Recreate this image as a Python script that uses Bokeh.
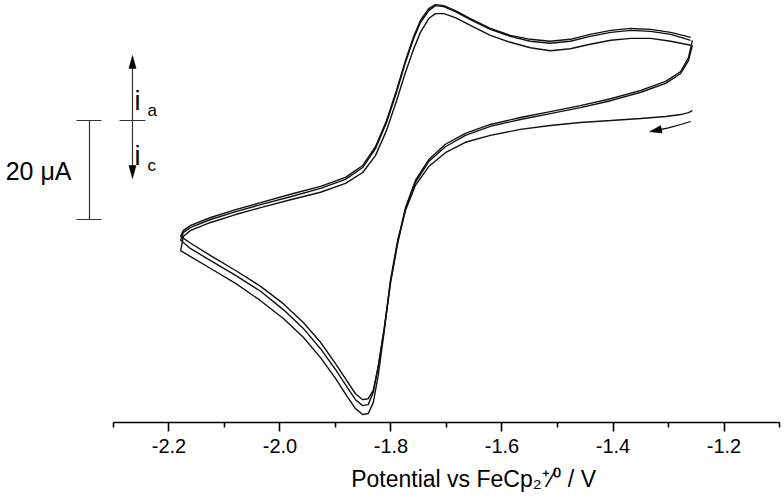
from bokeh.plotting import figure
from bokeh.models import Range1d, LinearAxis, FixedTicker, NumeralTickFormatter, Label
from bokeh.embed import file_html
from bokeh.resources import INLINE

# ---------------- data (potential in V vs FeCp2+/0, current in uA) ----------------
E_cathodic = [-1.257, -1.264, -1.278, -1.305, -1.350, -1.404, -1.459, -1.513, -1.567, -1.621,
              -1.666, -1.702, -1.732, -1.756, -1.774, -1.788, -1.801, -1.812, -1.823, -1.832,
              -1.841, -1.851, -1.864, -1.880, -1.900, -1.927, -1.958, -1.994, -2.035, -2.080,
              -2.125, -2.161, -2.179]
E_anodic = [-2.179, -2.174, -2.161, -2.125, -2.080, -2.035, -1.981, -1.927, -1.882, -1.851,
            -1.828, -1.808, -1.790, -1.774, -1.759, -1.747, -1.732, -1.720, -1.705, -1.684,
            -1.657, -1.621, -1.585, -1.549, -1.513, -1.477, -1.441, -1.404, -1.368, -1.332,
            -1.296, -1.260]

I_cath_1 = [2.0, 1.6, 1.2, 0.8, 0.4, 0.0, -0.4, -1.0, -1.8, -3.0,
            -4.4, -6.5, -9.3, -13.1, -18.2, -24.2, -32.3, -42.4, -51.5, -57.0,
            -59.2, -59.4, -58.2, -55.6, -52.1, -47.9, -43.8, -40.0, -36.4, -32.9,
            -29.9, -27.5, -26.3]
I_anod_1 = [-26.3, -23.4, -22.2, -20.6, -19.0, -17.6, -16.0, -14.5, -12.7, -10.5,
            -7.1, -2.0, 4.0, 9.7, 14.5, 17.8, 20.6, 21.6, 21.6, 20.8,
            19.2, 17.2, 15.8, 14.7, 14.1, 14.5, 15.4, 16.2, 16.6, 16.6,
            16.0, 15.2]
I_cath_2 = [15.2, 12.1, 9.5, 7.5, 5.7, 4.0, 2.6, 1.4, 0.2, -1.2,
            -3.0, -5.3, -8.3, -12.5, -18.0, -24.8, -32.7, -41.8, -49.7, -54.9,
            -57.4, -57.6, -56.4, -53.7, -50.3, -46.1, -42.0, -38.2, -34.5, -31.3,
            -28.3, -25.9, -24.2]
I_anod_2 = [-24.2, -22.6, -21.6, -20.0, -18.4, -17.0, -15.4, -13.7, -11.9, -9.5,
            -5.7, -0.4, 5.7, 11.7, 16.6, 19.8, 22.2, 23.2, 23.0, 22.0,
            20.4, 18.4, 17.0, 16.0, 15.6, 16.0, 17.0, 17.8, 18.2, 18.0,
            17.4, 16.2]
I_cath_3 = [16.2, 12.7, 9.9, 7.9, 6.1, 4.4, 3.0, 1.8, 0.6, -0.8,
            -2.6, -4.8, -7.9, -12.1, -17.6, -24.6, -32.9, -42.0, -49.7, -54.5,
            -56.2, -56.4, -55.2, -52.5, -49.1, -44.8, -40.8, -37.0, -33.5, -30.3,
            -27.3, -24.8, -23.4]
I_anod_3 = [-23.4, -22.2, -21.2, -19.6, -18.0, -16.6, -14.9, -13.3, -11.5, -9.1,
            -5.3, 0.0, 6.1, 12.1, 17.0, 20.2, 22.6, 23.4, 23.2, 22.2,
            20.6, 18.6, 17.2, 16.4, 16.0, 16.4, 17.4, 18.2, 18.6, 18.4,
            17.8, 16.8]

# scan-direction arrow (start of first sweep)
E_scan_arrow = [-1.260, -1.278, -1.300, -1.322]
I_scan_arrow = [-0.2, -0.8, -1.5, -2.0]

major_ticks = [-2.2, -2.0, -1.8, -1.6, -1.4, -1.2]
minor_ticks = [-2.3, -2.1, -1.9, -1.7, -1.5, -1.3, -1.1]
axis_bounds = (-2.3, -1.1)
scale_bar_uA = 20
scale_label = "20 \u03bcA"
x_title = "Potential vs FeCp\u2082\u207a\u2044\u2070 / V"

# ---------------- layout ----------------
W, H = 784, 498
FRAME_W, FRAME_H = 780, 422           # frame spans page x 0..780, page y 0..422
X0, X1 = -2.5036, -1.0982
Y0, Y1 = -61.010, 24.242
PX_V = FRAME_W / (X1 - X0)
PX_I = FRAME_H / (Y1 - Y0)


def x_at(px):
    return X0 + px / PX_V


def y_at(py):
    return Y1 - py / PX_I


p = figure(width=W, height=H, output_backend="svg", toolbar_location=None,
           x_range=Range1d(X0, X1), y_range=Range1d(Y0, Y1),
           x_axis_location=None, y_axis_location=None,
           min_border_left=0, min_border_right=W - FRAME_W, min_border_top=0,
           min_border_bottom=H - FRAME_H)
p.outline_line_color = None
p.grid.grid_line_color = None
p.background_fill_color = "white"
p.border_fill_color = "white"

# the axis title is centred on the frame; leading no-break spaces move it right,
# to where the original places it
ax = LinearAxis(bounds=axis_bounds,
                ticker=FixedTicker(ticks=major_ticks, minor_ticks=minor_ticks),
                formatter=NumeralTickFormatter(format="0.0"),
                axis_label="\u00a0" * 26 + x_title)
ax.axis_line_width = 1.6
ax.axis_line_color = "black"
ax.major_tick_line_width = 1.6
ax.major_tick_line_color = "black"
ax.minor_tick_line_width = 1.6
ax.minor_tick_line_color = "black"
ax.major_tick_in = 0
ax.major_tick_out = 9
ax.minor_tick_in = 0
ax.minor_tick_out = 5
ax.major_label_text_font = "Liberation Sans"
ax.major_label_text_font_size = "20px"
ax.major_label_text_color = "black"
ax.major_label_standoff = 7
ax.axis_label_text_font = "Liberation Sans"
ax.axis_label_text_font_size = "23px"
ax.axis_label_text_font_style = "normal"
ax.axis_label_text_color = "black"
ax.axis_label_standoff = 10
p.add_layout(ax, "below")

line_kw = dict(line_color="#111111", line_width=1.4)
p.line(E_cathodic + E_anodic, I_cath_1 + I_anod_1, **line_kw)
p.line(E_cathodic + E_anodic, I_cath_2 + I_anod_2, **line_kw)
p.line(E_cathodic + E_anodic, I_cath_3 + I_anod_3, **line_kw)


def head_patch(tx, ty, fx, fy, length=13.0, half=3.6):
    ux = (tx - fx) * PX_V
    uy = (ty - fy) * PX_I
    n = (ux ** 2 + uy ** 2) ** 0.5
    ux, uy = ux / n, uy / n
    bx, by = -ux * length, -uy * length
    nx, ny = -uy * half, ux * half
    xs = [tx, tx + (bx + nx) / PX_V, tx + (bx - nx) / PX_V]
    ys = [ty, ty + (by + ny) / PX_I, ty + (by - ny) / PX_I]
    return xs, ys


# scan direction arrow near the starting potential
p.line(E_scan_arrow, I_scan_arrow, line_color="black", line_width=1.2)
hx, hy = head_patch(E_scan_arrow[-1] - 0.012, I_scan_arrow[-1] - 0.25,
                    E_scan_arrow[-2], I_scan_arrow[-2], length=12, half=3.8)
p.patch(hx, hy, fill_color="black", line_color="black", line_width=0.5)

# ---------------- current scale bar ----------------
bar_x = x_at(89)
bar_top = y_at(120)
bar_bot = bar_top - scale_bar_uA
p.segment(x0=[bar_x, x_at(76), x_at(76)], y0=[bar_top, bar_top, bar_bot],
          x1=[bar_x, x_at(101), x_at(101)], y1=[bar_bot, bar_top, bar_bot],
          line_color="#333333", line_width=1.2)
p.add_layout(Label(x=x_at(71), y=y_at(170), text=scale_label, text_align="right",
                   text_baseline="middle", text_font="Liberation Sans",
                   text_font_size="25px", text_color="black"))

# ---------------- ia / ic arrows ----------------
ar_x = x_at(132)
ar_mid = y_at(120)
p.segment(x0=[ar_x, x_at(119)], y0=[y_at(66), ar_mid], x1=[ar_x, x_at(145)],
          y1=[y_at(167), ar_mid], line_color="#333333", line_width=1.2)
ux_, uy_ = head_patch(ar_x, y_at(55), ar_x, ar_mid)
p.patch(ux_, uy_, fill_color="black", line_color="black", line_width=0.5)
dx_, dy_ = head_patch(ar_x, y_at(178), ar_x, ar_mid)
p.patch(dx_, dy_, fill_color="black", line_color="black", line_width=0.5)

for txt, px, py, size in [("i", 134, 100, "27px"), ("a", 147, 110, "17px"),
                          ("i", 134, 155, "27px"), ("c", 147, 165, "17px")]:
    p.add_layout(Label(x=x_at(px), y=y_at(py), text=txt, text_baseline="alphabetic",
                       text_font="Liberation Sans", text_font_size=size, text_color="black"))

open("out.html", "w").write(file_html(p, INLINE))
